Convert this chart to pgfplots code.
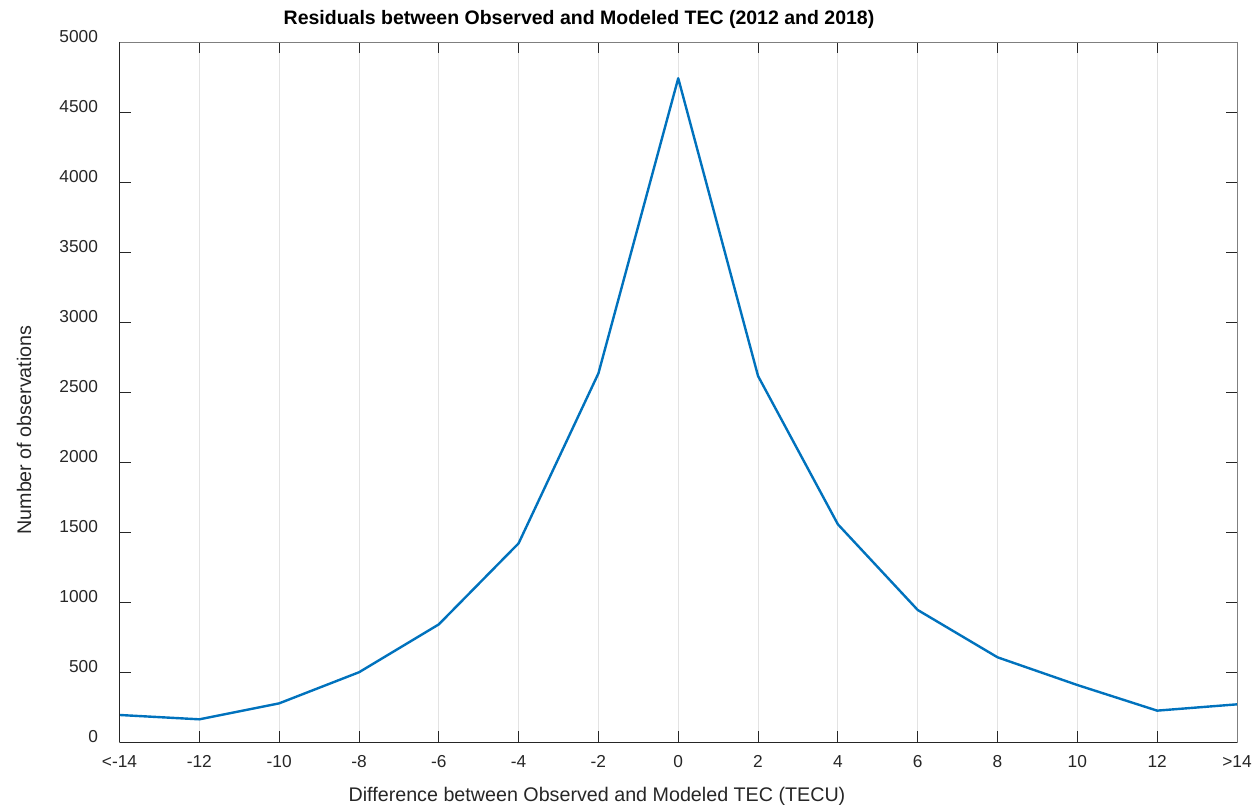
\documentclass[border=0pt]{standalone}
\usepackage{fontspec}
\setmainfont{Liberation Sans}
\usepackage{pgfplots}
\pgfplotsset{compat=1.18}
\definecolor{mblue}{HTML}{0072BD}
\definecolor{gridgray}{HTML}{E3E3E3}
\definecolor{axdark}{HTML}{262626}
\definecolor{axgray}{HTML}{7F7F7F}
\begin{document}
\begin{tikzpicture}[x=1pt,y=1pt]
\path[use as bounding box] (0,0) rectangle (1255,805);
\begin{axis}[
  at={(119.5pt,63pt)}, anchor=south west,
  scale only axis, width=1117.5pt, height=700pt,
  xmin=-14, xmax=14, ymin=0, ymax=5000,
  xtick={-14,-12,...,14},
  xticklabels={<-14,-12,-10,-8,-6,-4,-2,0,2,4,6,8,10,12,>14},
  ytick={0,500,...,5000},
  scaled y ticks=false,
  /pgf/number format/assume math mode=true,
  yticklabel style={/pgf/number format/1000 sep={}},
  tick label style={font=\fontsize{17.3}{17.3}\selectfont, text=axdark},
  xticklabel style={yshift=-10pt},
  yticklabel style={xshift=-18pt, yshift=5pt},
  tick align=inside, major tick length=11pt,
  tick style={axdark, line width=0.8pt},
  xmajorgrids, ymajorgrids=false,
  major grid style={gridgray, line width=0.9pt},
  axis line style={axgray, line width=0.9pt},
  clip=false,
]
\addplot[mblue, line width=2.4pt, line join=round] coordinates {
(-14,193) (-12,162) (-10,276) (-8,498) (-6,840) (-4,1419) (-2,2633)
(0,4741) (2,2614) (4,1555) (6,943) (8,605) (10,407) (12,224) (14,269)
};
\draw[axdark, line width=0.9pt] (rel axis cs:0,0) -- (rel axis cs:0,1);
\draw[axdark, line width=0.9pt] (rel axis cs:0,0) -- (rel axis cs:1,0);
\end{axis}
\node[font=\fontsize{19.5}{19.5}\selectfont\bfseries, anchor=center] at (579,786) {Residuals between Observed and Modeled TEC (2012 and 2018)};
\node[font=\fontsize{19.7}{19.7}\selectfont, text=axdark, anchor=center] at (597,9) {Difference between Observed and Modeled TEC (TECU)};
\node[font=\fontsize{19.7}{19.7}\selectfont, text=axdark, anchor=center, rotate=90] at (24,375) {Number of observations};
\end{tikzpicture}
\end{document}
